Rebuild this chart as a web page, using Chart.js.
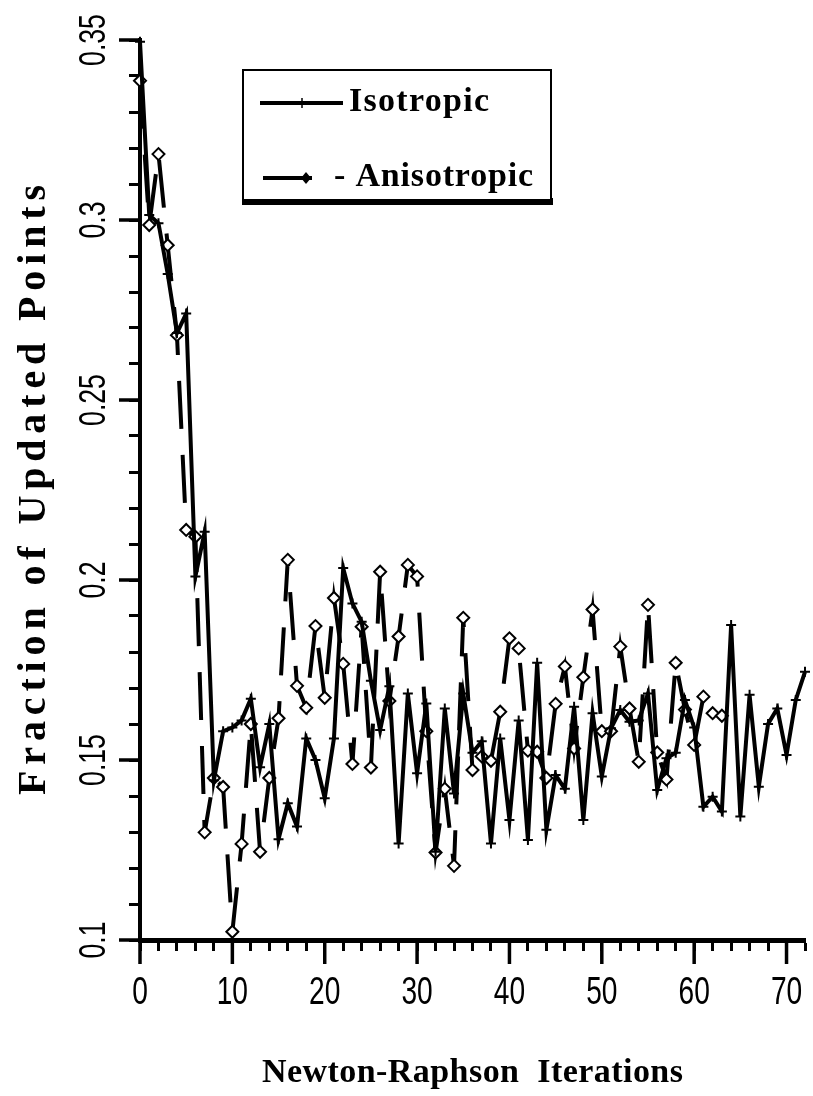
<!DOCTYPE html>
<html>
<head>
<meta charset="utf-8">
<script src="https://cdn.jsdelivr.net/npm/chart.js@4.4.1/dist/chart.umd.min.js"></script>
<style>
  html, body { margin: 0; padding: 0; background: #fff; }
  #wrap { position: relative; width: 813px; height: 1096px; }
</style>
</head>
<body>
<div id="wrap"><canvas id="c" width="813" height="1096"></canvas></div>
<script>
// Fraction of updated points per Newton-Raphson iteration.

const ISOTROPIC = [
  0.3495, 0.3014, 0.2991, 0.285, 0.2686, 0.274, 0.201, 0.2134, 0.1444, 0.158,
  0.159, 0.161, 0.167, 0.148, 0.160, 0.128, 0.138, 0.1315, 0.156, 0.150,
  0.1394, 0.156, 0.2033, 0.1935, 0.1884, 0.172, 0.1583, 0.1705, 0.1268, 0.1685,
  0.1463, 0.1657, 0.1245, 0.1643, 0.1407, 0.1685, 0.152, 0.1552, 0.1268, 0.156,
  0.1333, 0.161, 0.1278, 0.177, 0.1306, 0.1458, 0.142, 0.1648, 0.1333, 0.163,
  0.1454, 0.1588, 0.1639, 0.1606, 0.161, 0.1685, 0.1417, 0.1505, 0.152, 0.1667,
  0.159, 0.137, 0.1398, 0.1357, 0.1875, 0.1343, 0.1681, 0.1426, 0.160, 0.1643,
  0.1514, 0.1667, 0.1745
];

const ANISOTROPIC = [
  0.3387, 0.2986, 0.3183, 0.293, 0.268, 0.2139, 0.212, 0.1299, 0.145, 0.1425,
  0.1023, 0.1267, 0.160, 0.1245, 0.145, 0.1616, 0.2056, 0.1706, 0.1645, 0.1872,
  0.1673, 0.195, 0.1767, 0.1489, 0.187, 0.1479, 0.2023, 0.1664, 0.1843, 0.2042,
  0.201, 0.158, 0.1243, 0.142, 0.1206, 0.1895, 0.1472, 0.151, 0.1498, 0.1634,
  0.1838, 0.181, 0.1526, 0.1523, 0.145, 0.1656, 0.176, 0.1532, 0.173, 0.1918,
  0.158, 0.158, 0.1815, 0.1643, 0.1495, 0.1931, 0.1521, 0.1446, 0.177, 0.164,
  0.1542, 0.1676, 0.163, 0.1623
];

const X_TICKS = [0, 10, 20, 30, 40, 50, 60, 70];
const Y_TICKS = [0.1, 0.15, 0.2, 0.25, 0.3, 0.35];
const Y_TICK_LABELS = ['0.1', '0.15', '0.2', '0.25', '0.3', '0.35'];

const X_TITLE = 'Newton-Raphson  Iterations';
const Y_TITLE = 'Fraction of Updated Points';
const LEGEND_LABELS = ['Isotropic', '- Anisotropic'];

// iteration number is the x value of each point
const toPoints = (arr) => arr.map((v, i) => ({ x: i, y: v }));

// text helper: stretch/squeeze letter spacing so a string spans a given width
function fitText(ctx, text, x, y, width) {
  ctx.letterSpacing = '0px';
  const w = ctx.measureText(text).width;
  if (width && text.length > 1) {
    ctx.letterSpacing = ((width - w) / (text.length - 1)).toFixed(2) + 'px';
  }
  ctx.fillText(text, x, y);
  ctx.letterSpacing = '0px';
}

function stroke(ctx, x1, y1, x2, y2) {
  ctx.beginPath(); ctx.moveTo(x1, y1); ctx.lineTo(x2, y2); ctx.stroke();
}

const decorations = {
  id: 'decorations',
  afterDraw(chart) {
    const { ctx, chartArea: a, scales: { x, y } } = chart;
    ctx.save();
    ctx.strokeStyle = '#000';
    ctx.fillStyle = '#000';

    // long (major) tick marks
    ctx.lineWidth = 3.5;
    X_TICKS.forEach(v => { const px = x.getPixelForValue(v); stroke(ctx, px, a.bottom, px, a.bottom + 24); });
    Y_TICKS.forEach(v => { const py = y.getPixelForValue(v); stroke(ctx, a.left - 21, py, a.left, py); });

    // x tick labels (narrow sans)
    ctx.font = '38px "Liberation Sans", Arial, sans-serif';
    ctx.textAlign = 'center';
    ctx.textBaseline = 'alphabetic';
    X_TICKS.forEach(v => {
      ctx.save();
      ctx.translate(x.getPixelForValue(v), 1004);
      ctx.scale(0.74, 1);
      ctx.fillText(String(v), 0, 0);
      ctx.restore();
    });

    // y tick labels, rotated
    ctx.font = '36px "Liberation Sans", Arial, sans-serif';
    Y_TICKS.forEach((v, i) => {
      ctx.save();
      ctx.translate(105, y.getPixelForValue(v));
      ctx.rotate(-Math.PI / 2);
      ctx.scale(0.74, 1);
      ctx.fillText(Y_TICK_LABELS[i], 0, 0);
      ctx.restore();
    });

    // axis titles
    ctx.textAlign = 'left';
    ctx.font = 'bold 34px "Liberation Serif", "Times New Roman", serif';
    fitText(ctx, X_TITLE, 262, 1082, 421);
    ctx.font = 'bold 40px "Liberation Serif", "Times New Roman", serif';
    ctx.save();
    ctx.translate(45, 795);
    ctx.rotate(-Math.PI / 2);
    fitText(ctx, Y_TITLE, 0, 0, 610);
    ctx.restore();

    // legend box with drop shadow
    const L = { x: 243, y: 70, w: 308, h: 130 };
    ctx.fillRect(L.x - 1, L.y + L.h - 2, L.w + 3, 7);
    ctx.fillStyle = '#fff';
    ctx.fillRect(L.x, L.y, L.w, L.h);
    ctx.fillStyle = '#000';
    ctx.lineWidth = 2;
    ctx.strokeRect(L.x, L.y, L.w, L.h);

    ctx.lineWidth = 4;
    stroke(ctx, 260, 103, 343, 103);
    ctx.lineWidth = 1.5;
    stroke(ctx, 302, 98, 302, 108);
    ctx.lineWidth = 4;
    stroke(ctx, 263, 178, 312, 178);
    ctx.beginPath();
    ctx.moveTo(306, 172); ctx.lineTo(311, 178); ctx.lineTo(306, 184); ctx.lineTo(301, 178); ctx.closePath();
    ctx.fill();

    ctx.font = 'bold 34px "Liberation Serif", "Times New Roman", serif';
    fitText(ctx, LEGEND_LABELS[0], 349, 111, 140);
    fitText(ctx, LEGEND_LABELS[1], 334, 186, 199);

    ctx.restore();
  }
};

new Chart(document.getElementById('c').getContext('2d'), {
  type: 'line',
  data: {
    datasets: [
      {
        label: LEGEND_LABELS[0],
        data: toPoints(ISOTROPIC),
        borderColor: '#000',
        borderWidth: 4,
        pointStyle: 'cross',
        pointRadius: 5,
        pointBorderWidth: 2,
        pointBorderColor: '#000',
        tension: 0,
        clip: false,
      },
      {
        label: LEGEND_LABELS[1],
        data: toPoints(ANISOTROPIC),
        borderColor: '#000',
        borderWidth: 4,
        borderDash: [48, 26],
        pointStyle: 'rectRot',
        pointRadius: 6,
        pointBorderWidth: 2,
        pointBorderColor: '#000',
        pointBackgroundColor: '#fff',
        tension: 0,
        clip: false,
      }
    ]
  },
  options: {
    responsive: false,
    animation: false,
    layout: { padding: { top: 40, right: 0, bottom: 0, left: 0 } },
    plugins: { legend: { display: false }, tooltip: { enabled: false } },
    scales: {
      x: {
        type: 'linear',
        min: 0,
        max: 72,
        border: { display: true, color: '#000', width: 5 },
        grid: { drawOnChartArea: false, drawTicks: true, tickLength: 11, tickWidth: 3, tickColor: '#000' },
        ticks: { display: false, stepSize: 2, autoSkip: false },
        afterFit: (s) => { s.height = 156; }
      },
      y: {
        type: 'linear',
        min: 0.1,
        max: 0.35,
        border: { display: true, color: '#000', width: 4 },
        grid: { drawOnChartArea: false, drawTicks: true, tickLength: 11, tickWidth: 3, tickColor: '#000' },
        ticks: { display: false, stepSize: 0.01, autoSkip: false },
        afterFit: (s) => { s.width = 140; }
      }
    }
  },
  plugins: [decorations]
});
</script>
</body>
</html>
